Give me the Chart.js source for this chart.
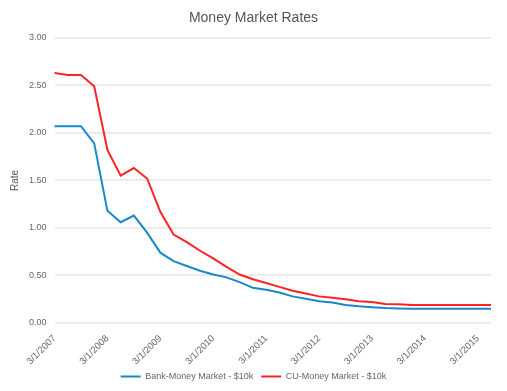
<!DOCTYPE html>
<html>
<head>
	<meta charset="utf-8">
	<title>Money Market Rates</title>
	<script src="https://cdn.jsdelivr.net/npm/chart.js@4.4.0/dist/chart.umd.min.js"></script>
	<style>
		html, body { margin: 0; padding: 0; background: #fff; }
		#wrap { width: 507px; height: 391px; }
	</style>
</head>
<body>

	<div id="wrap"><canvas id="mychart"></canvas></div>

	<script type="text/javascript">

		// quarterly dates, 3/1/2007 .. 6/1/2015
		const dates = [
			'3/1/2007', '6/1/2007', '9/1/2007', '12/1/2007',
			'3/1/2008', '6/1/2008', '9/1/2008', '12/1/2008',
			'3/1/2009', '6/1/2009', '9/1/2009', '12/1/2009',
			'3/1/2010', '6/1/2010', '9/1/2010', '12/1/2010',
			'3/1/2011', '6/1/2011', '9/1/2011', '12/1/2011',
			'3/1/2012', '6/1/2012', '9/1/2012', '12/1/2012',
			'3/1/2013', '6/1/2013', '9/1/2013', '12/1/2013',
			'3/1/2014', '6/1/2014', '9/1/2014', '12/1/2014',
			'3/1/2015', '6/1/2015'
		];

		const bankRates = [
			2.07, 2.07, 2.07, 1.89, 1.18, 1.06, 1.13, 0.95,
			0.74, 0.65, 0.60, 0.55, 0.51, 0.48, 0.43, 0.37,
			0.35, 0.32, 0.28, 0.255, 0.23, 0.215, 0.19, 0.175,
			0.165, 0.157, 0.153, 0.15, 0.15, 0.15, 0.15, 0.15,
			0.15, 0.15
		];

		const cuRates = [
			2.63, 2.61, 2.61, 2.49, 1.82, 1.55, 1.63, 1.52,
			1.17, 0.93, 0.85, 0.76, 0.68, 0.59, 0.51, 0.46,
			0.42, 0.38, 0.34, 0.31, 0.28, 0.265, 0.25, 0.23,
			0.22, 0.20, 0.196, 0.19, 0.19, 0.19, 0.19, 0.19,
			0.19, 0.19
		];

		const yTicks = [0, 0.5, 1, 1.5, 2, 2.5, 3];

		Chart.defaults.font.family = "'Liberation Sans', Arial, sans-serif";
		Chart.defaults.color = '#666';

		const ctx = document.getElementById('mychart').getContext('2d');

		const myChart = new Chart(ctx, {
			type: 'line',
			data: {
				labels: dates,
				datasets: [{
					label: 'Bank-Money Market - $10k',
					data: bankRates,
					borderColor: '#1a87c9',
					backgroundColor: '#1a87c9',
					borderWidth: 2,
					pointRadius: 0,
					tension: 0,
					fill: false
				}, {
					label: 'CU-Money Market - $10k',
					data: cuRates,
					borderColor: '#ff2222',
					backgroundColor: '#ff2222',
					borderWidth: 2,
					pointRadius: 0,
					tension: 0,
					fill: false
				}]
			},
			options: {
				responsive: true,
				maintainAspectRatio: false,
				animation: false,
				layout: { padding: { left: 0, right: 0, top: 4, bottom: 0 } },
				plugins: {
					title: {
						display: true,
						text: 'Money Market Rates',
						color: '#555',
						font: { size: 14, weight: 'normal' },
						padding: { top: 6, bottom: 11 }
					},
					legend: {
						position: 'bottom',
						labels: {
							usePointStyle: true,
							pointStyle: 'line',
							pointStyleWidth: 20,
							color: '#666',
							font: { size: 9 },
							padding: 8
						}
					},
					tooltip: { enabled: false }
				},
				scales: {
					x: {
						grid: { display: false },
						border: { display: false },
						afterFit: axis => { axis.height = 41; axis.paddingRight = 16; },
						ticks: {
							autoSkip: false,
							maxRotation: 45,
							minRotation: 45,
							padding: 2,
							font: { size: 9.5 },
							color: '#666',
							callback: function(val, i) {
								return i % 4 === 0 ? dates[i] : null;
							}
						}
					},
					y: {
						min: 0,
						max: 3,
						afterBuildTicks: axis => { axis.ticks = yTicks.map(v => ({ value: v })); },
						title: { display: true, text: 'Rate', color: '#555', font: { size: 10 }, padding: { top: 9, bottom: 0 } },
						grid: { color: '#ebebeb', lineWidth: 2, drawTicks: false },
						border: { display: false },
						ticks: {
							padding: 8,
							font: { size: 9 },
							color: '#666',
							callback: v => v.toFixed(2)
						}
					}
				}
			}
		});

	</script>

</body>
</html>
